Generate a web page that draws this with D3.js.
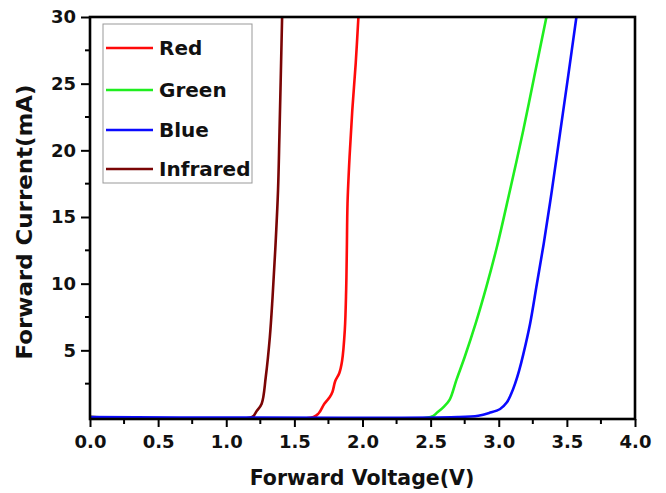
<!DOCTYPE html>
<html>
<head>
<meta charset="utf-8">
<script src="https://cdn.jsdelivr.net/npm/d3@7"></script>
<style>
  body { margin: 0; background: #fff; }
  text { font-family: "DejaVu Sans", sans-serif; font-weight: bold; fill: #111; }
</style>
</head>
<body>
<div id="chart"></div>
<script>
// series names and colours
var names = ["Red", "Green", "Blue", "Infrared"];
var colors = ["#ff0a0a", "#1fee1f", "#0a0aff", "#7a0505"];

// [voltage (V), current (mA)]
var redData = [[0,0],[1.64,0],[1.68,0.3],[1.72,1.0],[1.76,1.5],[1.78,1.9],[1.80,2.7],[1.83,3.3],[1.85,4.2],[1.87,6.5],[1.88,9.5],[1.885,12.5],[1.89,16],[1.905,19.5],[1.925,23],[1.95,26.5],[1.97,30]];
var greenData = [[0,0],[2.5,0],[2.55,0.35],[2.6,0.8],[2.64,1.3],[2.69,2.8],[2.75,4.5],[2.83,7.0],[2.91,9.8],[2.99,12.9],[3.08,16.9],[3.18,21.5],[3.26,25.5],[3.35,30]];
var blueData = [[0,0],[2.7,0],[2.85,0.1],[2.93,0.3],[3.01,0.6],[3.06,1.1],[3.09,1.7],[3.12,2.5],[3.15,3.5],[3.18,4.7],[3.23,7.0],[3.28,10.0],[3.33,13.0],[3.39,17.0],[3.45,21.3],[3.51,25.6],[3.57,30]];
var infraredData = [[0,0],[1.19,0],[1.22,0.4],[1.26,1.0],[1.29,3],[1.32,6],[1.34,9],[1.36,12.6],[1.38,17],[1.39,21],[1.41,30]];

var xTicks = [0, 0.5, 1.0, 1.5, 2.0, 2.5, 3.0, 3.5, 4.0];
var yTicks = [5, 10, 15, 20, 25, 30];

(function () {
    var width = 666, height = 493;
    var left = 90, right = 635, top = 17, bottom = 419;

    var svg = d3.select("#chart").append("svg")
        .attr("width", width).attr("height", height);

    var x = d3.scaleLinear().domain([0, 4]).range([left, right]);
    var y = d3.scaleLinear().domain([-0.15, 30]).range([bottom, top]);

    svg.append("clipPath").attr("id", "plot")
        .append("rect").attr("x", left).attr("y", top)
        .attr("width", right - left).attr("height", bottom - top);

    var line = d3.line()
        .x(function (d) { return x(d[0]); })
        .y(function (d) { return y(d[1]); })
        .curve(d3.curveCatmullRom.alpha(0.5));

    var series = [redData, greenData, blueData, infraredData];
    // blue drawn last so its flat part sits on top, like the original
    var order = [0, 1, 3, 2];
    var g = svg.append("g").attr("clip-path", "url(#plot)");
    order.forEach(function (i) {
        g.append("path").datum(series[i])
            .attr("d", line)
            .attr("fill", "none")
            .attr("stroke", colors[i])
            .attr("stroke-width", 2.6)
            .attr("stroke-linejoin", "round");
    });

    // bottom axis
    var xAxis = svg.append("g").attr("transform", "translate(0," + bottom + ")")
        .call(d3.axisBottom(x).tickValues(xTicks).tickSize(8).tickPadding(8)
            .tickFormat(d3.format(".1f")));
    xAxis.selectAll("text").attr("font-size", 18);
    var xMinor = d3.range(0.25, 4, 0.5);
    svg.append("g").selectAll("line").data(xMinor).join("line")
        .attr("x1", function (d) { return x(d); }).attr("x2", function (d) { return x(d); })
        .attr("y1", bottom).attr("y2", bottom + 5)
        .attr("stroke", "#000").attr("stroke-width", 2);

    // left axis
    var yAxis = svg.append("g").attr("transform", "translate(" + left + ",0)")
        .call(d3.axisLeft(y).tickValues(yTicks).tickSize(9).tickPadding(5));
    yAxis.selectAll("text").attr("font-size", 18);
    var yMinor = d3.range(2.5, 30, 5);
    svg.append("g").selectAll("line").data(yMinor).join("line")
        .attr("y1", function (d) { return y(d); }).attr("y2", function (d) { return y(d); })
        .attr("x1", left).attr("x2", left - 5)
        .attr("stroke", "#000").attr("stroke-width", 2);

    [xAxis, yAxis].forEach(function (a) {
        a.select(".domain").remove();
        a.selectAll(".tick line").attr("stroke", "#000").attr("stroke-width", 2);
        a.selectAll("text").style("fill", "#111");
    });

    // frame
    svg.append("rect").attr("x", left).attr("y", top)
        .attr("width", right - left).attr("height", bottom - top)
        .attr("fill", "none").attr("stroke", "#000").attr("stroke-width", 2.6);

    // titles
    svg.append("text").attr("x", 362).attr("y", 485)
        .attr("text-anchor", "middle").attr("font-size", 20.5)
        .text("Forward Voltage(V)");
    svg.append("text")
        .attr("transform", "translate(32,222) rotate(-90)")
        .attr("text-anchor", "middle").attr("font-size", 21)
        .attr("textLength", 275).attr("lengthAdjust", "spacingAndGlyphs")
        .text("Forward Current(mA)");

    // legend
    var lg = svg.append("g");
    lg.append("rect").attr("x", 103).attr("y", 24).attr("width", 149).attr("height", 159)
        .attr("fill", "#fff").attr("stroke", "#999").attr("stroke-width", 1);
    var rows = [48, 90, 130, 169];
    names.forEach(function (n, i) {
        lg.append("line").attr("x1", 106).attr("x2", 153)
            .attr("y1", rows[i]).attr("y2", rows[i])
            .attr("stroke", colors[i]).attr("stroke-width", 2.6);
        lg.append("text").attr("x", 159).attr("y", rows[i] + 7)
            .attr("font-size", 20).text(n);
    });
})();
</script>
</body>
</html>
